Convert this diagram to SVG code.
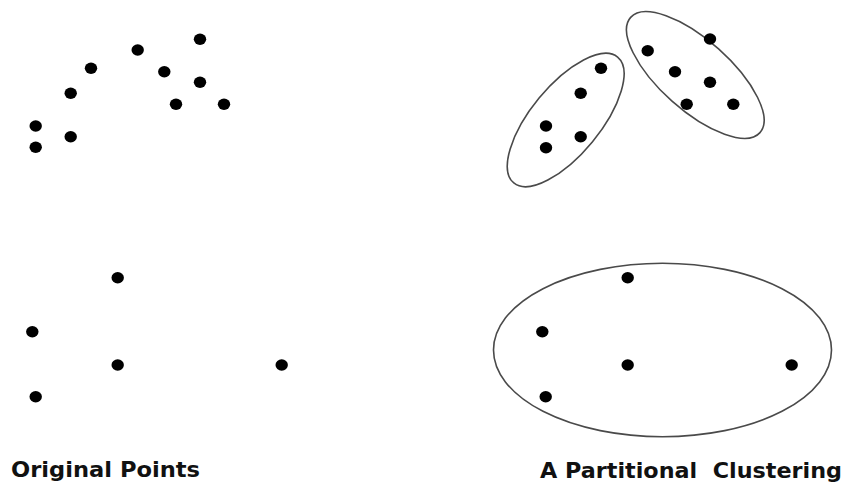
<svg xmlns="http://www.w3.org/2000/svg" xmlns:xlink="http://www.w3.org/1999/xlink" width="846" height="485" viewBox="0 0 846 485">
<style>
.dot{fill:#000}
.hull{fill:none;stroke:#4a4a4a;stroke-width:1.6}
.lbl{font-family:"DejaVu Sans","Liberation Sans",sans-serif;font-weight:bold;font-size:21px;fill:#111;white-space:pre}
</style>
<defs>
<ellipse id="pt" class="dot" cx="0" cy="0" rx="6.2" ry="5.7"/>
</defs>
<rect width="846" height="485" fill="#fff"/>
<g id="original-points">
<g id="orig-top">
<use href="#pt" x="200" y="39.3"/>
<use href="#pt" x="137.7" y="50"/>
<use href="#pt" x="91" y="68.3"/>
<use href="#pt" x="164.3" y="71.7"/>
<use href="#pt" x="200" y="82.3"/>
<use href="#pt" x="70.7" y="93.3"/>
<use href="#pt" x="176" y="104.3"/>
<use href="#pt" x="224" y="104.3"/>
<use href="#pt" x="35.7" y="126"/>
<use href="#pt" x="70.7" y="136.7"/>
<use href="#pt" x="35.7" y="147.3"/>
</g>
<g id="orig-bottom">
<use href="#pt" x="117.7" y="277.7"/>
<use href="#pt" x="32.3" y="331.7"/>
<use href="#pt" x="117.7" y="365"/>
<use href="#pt" x="281.7" y="365"/>
<use href="#pt" x="35.7" y="396.7"/>
</g>
<text class="lbl" x="11" y="477" textLength="189" lengthAdjust="spacingAndGlyphs">Original Points</text>
</g>
<g id="partitional-clustering">
<g id="cluster-1">
<ellipse class="hull" cx="565.7" cy="120" rx="81.6" ry="34.5" transform="rotate(-50.5 565.7 120)"/>
<use href="#pt" x="601" y="68.3"/>
<use href="#pt" x="580.7" y="93.3"/>
<use href="#pt" x="546" y="126"/>
<use href="#pt" x="580.7" y="136.7"/>
<use href="#pt" x="546" y="147.7"/>
</g>
<g id="cluster-2">
<ellipse class="hull" cx="695.3" cy="75" rx="86.6" ry="35" transform="rotate(41.7 695.3 75)"/>
<use href="#pt" x="710" y="39"/>
<use href="#pt" x="647.7" y="50.7"/>
<use href="#pt" x="675" y="71.7"/>
<use href="#pt" x="710" y="82.3"/>
<use href="#pt" x="686.7" y="104.3"/>
<use href="#pt" x="733.3" y="104.3"/>
</g>
<g id="cluster-3">
<ellipse class="hull" cx="662.5" cy="350" rx="169" ry="86.7"/>
<use href="#pt" x="627.7" y="277.7"/>
<use href="#pt" x="542.3" y="331.7"/>
<use href="#pt" x="627.7" y="365"/>
<use href="#pt" x="791.7" y="365"/>
<use href="#pt" x="545.7" y="396.7"/>
</g>
<text class="lbl" x="540" y="478" xml:space="preserve" textLength="302" lengthAdjust="spacingAndGlyphs">A Partitional  Clustering</text>
</g>
</svg>
